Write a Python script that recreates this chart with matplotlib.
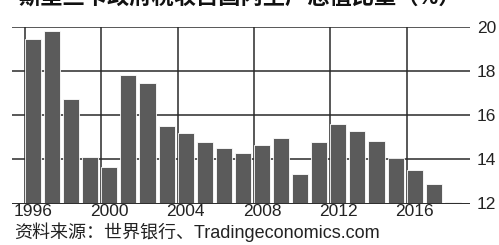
import matplotlib
matplotlib.use("Agg")
import matplotlib.pyplot as plt
import numpy as np

plt.rcParams['font.family'] = ['Liberation Sans', 'Noto Sans CJK SC', 'DejaVu Sans']

years = list(range(1996, 2019))
values = [19.44, 19.82, 16.73, 14.09, 13.63, 17.84, 17.45, 15.49, 15.17, 14.78,
          14.51, 14.28, 14.66, 14.96, 13.35, 14.78, 15.61, 15.29, 14.84, 14.07,
          13.52, 12.90, 12.05]
yticks = [12, 14, 16, 18, 20]
xtick_years = [1996, 2000, 2004, 2008, 2012, 2016]
title = "斯里兰卡政府税收占国内生产总值比重（%）"
source = "资料来源：世界银行、Tradingeconomics.com"

W, H = 499, 245
fig = plt.figure(figsize=(W/100, H/100), dpi=100)
ax = fig.add_axes([12/W, 1-204/H, (470-12)/W, (204-27)/H])

bar_color = '#5b5b5b'
grid_color = '#2a2a2a'
ax.bar(years, [v - 12 for v in values], bottom=12, width=0.84,
       color=bar_color, edgecolor='white', linewidth=0.6, zorder=3)

ax.set_xlim(1994.9, 2018.9)
ax.set_ylim(11.97, 20)

for y in yticks[1:]:
    ax.axhline(y, color=grid_color, lw=1.1, zorder=1)
for xy in xtick_years:
    ax.axvline(xy - 0.42, color=grid_color, lw=1.1, zorder=1)
ax.axhline(11.97, color=grid_color, lw=1.4, zorder=4)

for s in ax.spines.values():
    s.set_visible(False)
ax.yaxis.tick_right()
ax.set_yticks(yticks)
ax.set_yticklabels([str(t) for t in yticks], fontsize=12.5, color='#222222')
ax.tick_params(axis='y', length=0, pad=5)
ax.set_xticks(xtick_years)
ax.set_xticklabels([str(t) for t in xtick_years], fontsize=12.5, color='#222222')
ax.tick_params(axis='x', length=0, pad=0)
ax.set_facecolor('white')

fig.text(18/W, 1 - 9/H, title, fontsize=16, fontweight='bold', ha='left', va='bottom',
         color='#111111')
fig.text(14/W, 1 - 238/H, source, fontsize=13, ha='left', va='baseline', color='#222222')

fig.savefig('out.png', dpi=100, facecolor='white')
